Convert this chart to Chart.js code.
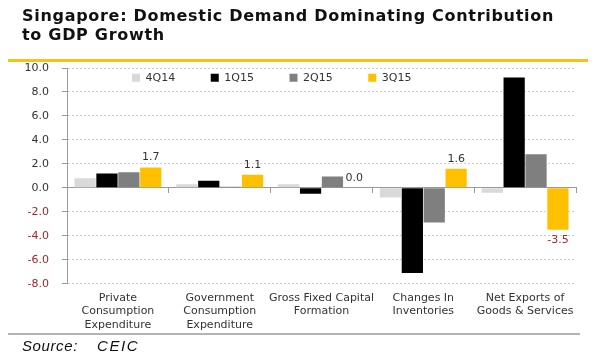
<!DOCTYPE html>
<html>
<head>
<meta charset="utf-8">
<script src="https://cdn.jsdelivr.net/npm/chart.js@4/dist/chart.umd.min.js"></script>
<style>
  html, body { margin: 0; padding: 0; background: #ffffff; }
  #wrap { position: relative; width: 600px; height: 360px; overflow: hidden; background: #fff; }
  #title { position: absolute; left: 22px; top: 6px; font: bold 16px "DejaVu Sans", sans-serif; line-height: 19px; letter-spacing: 0.7px; color: #111; white-space: nowrap; }
  #ruleTop { position: absolute; left: 8px; top: 59px; width: 580px; height: 3px; background: #f0c419; }
  #ruleBottom { position: absolute; left: 8px; top: 333px; width: 572px; height: 2px; background: #b4b4b4; }
  #source { position: absolute; left: 22px; top: 337px; font: italic 15px "Liberation Sans", Arial, sans-serif; line-height: 17px; color: #111; white-space: pre; letter-spacing: 0.6px; }
  #source span { letter-spacing: 1.6px; }
  canvas { position: absolute; left: 0; top: 0; }
</style>
</head>
<body>
<div id="wrap">
  <canvas id="c" width="600" height="360"></canvas>
  <div id="title">Singapore: Domestic Demand Dominating Contribution<br>to GDP Growth</div>
  <div id="ruleTop"></div>
  <div id="ruleBottom"></div>
  <div id="source">Source:    <span>CEIC</span></div>
</div>
<script>
// ---- data ----
const categories = [
  ["Private", "Consumption", "Expenditure"],
  ["Government", "Consumption", "Expenditure"],
  ["Gross Fixed Capital", "Formation"],
  ["Changes In", "Inventories"],
  ["Net Exports of", "Goods & Services"]
];
const seriesNames = ["4Q14", "1Q15", "2Q15", "3Q15"];
const values4Q14 = [0.8, 0.3, 0.3, -0.8, -0.4];
const values1Q15 = [1.2, 0.6, -0.5, -7.1, 9.2];
const values2Q15 = [1.3, 0.08, 0.95, -2.9, 2.8];
const values3Q15 = [1.7, 1.1, 0.0, 1.6, -3.5];
const yMin = -8, yMax = 10, yStep = 2;

// ---- styles ----
const seriesColors = ["#d9d9d9", "#000000", "#7f7f7f", "#ffc000"];
const labelFont = { family: "DejaVu Sans", size: 11 };
const darkText = "#333333";
const negText = "#a8262b";

// legend drawn inside the plot area, in one row, without reserving layout space
const legendPlacer = {
  id: "legendPlacer",
  beforeLayout(chart) {
    const lg = chart.legend;
    if (!lg || lg._patchedFit) return;
    const origFit = lg.fit.bind(lg);
    lg.fit = function () {
      origFit();
      this._realHeight = this.height;
      this.height = 0;
    };
    lg._patchedFit = true;
  },
  afterLayout(chart) {
    const lg = chart.legend;
    if (!lg) return;
    const P = lg.options.labels.padding;
    lg.left = 132 - P;
    lg.right = chart.chartArea.right;
    lg.width = lg.right - lg.left;
    lg.top = 77.7 - 5.5 - P;
    lg.height = lg._realHeight || 0;
    lg.bottom = lg.top + lg.height;
  }
};

const valueLabels = {
  id: "valueLabels",
  afterDatasetsDraw(chart) {
    const ctx = chart.ctx;
    const meta = chart.getDatasetMeta(3);
    ctx.save();
    ctx.font = "11px 'DejaVu Sans'";
    ctx.textAlign = "center";
    ctx.textBaseline = "middle";
    meta.data.forEach((bar, i) => {
      const v = values3Q15[i];
      const neg = v < 0;
      ctx.fillStyle = neg ? negText : darkText;
      ctx.fillText(v.toFixed(1), bar.x, neg ? bar.y + 10 : bar.y - 10);
    });
    ctx.restore();
  }
};

const datasets = [values4Q14, values1Q15, values2Q15, values3Q15].map((vals, i) => ({
  label: seriesNames[i],
  data: vals,
  backgroundColor: seriesColors[i],
  borderWidth: 0,
  barPercentage: 0.97,
  categoryPercentage: 0.86
}));

new Chart(document.getElementById("c"), {
  type: "bar",
  data: { labels: categories, datasets },
  plugins: [legendPlacer, valueLabels],
  options: {
    responsive: false,
    animation: false,
    devicePixelRatio: 1,
    layout: { padding: { top: 68, right: 24, left: 0, bottom: 0 } },
    plugins: {
      title: { display: false },
      tooltip: { enabled: false },
      legend: {
        position: "top",
        align: "start",
        labels: { boxWidth: 8, boxHeight: 8, padding: 35.6, font: labelFont, color: darkText }
      }
    },
    scales: {
      x: {
        position: "bottom",
        grid: { display: false, drawTicks: false, tickLength: 0 },
        border: { display: false },
        ticks: { font: labelFont, color: darkText, padding: 8, maxRotation: 0, autoSkip: false },
        afterFit(s) { s.height = 76.3; }
      },
      x2: {
        type: "category",
        position: { y: 0 },
        offset: true,
        grid: { offset: true, drawOnChartArea: false, drawTicks: true, tickLength: 5, tickColor: "#9a9a9a" },
        border: { color: "#9a9a9a", width: 1 },
        ticks: { display: false }
      },
      y: {
        min: yMin, max: yMax,
        ticks: {
          stepSize: yStep,
          font: labelFont,
          padding: 13,
          color: (c) => (c.tick && c.tick.value < 0 ? negText : darkText),
          callback: (v) => Number(v).toFixed(1)
        },
        grid: {
          color: (c) => (c.tick && c.tick.value === 0 ? "rgba(0,0,0,0)" : "#cfcfcf"),
          tickColor: "#9a9a9a",
          tickLength: 5,
          tickBorderDash: []
        },
        border: { color: "#9a9a9a", width: 1, dash: [2, 2] },
        afterFit(s) { s.width = 67; }
      }
    }
  }
});
</script>
</body>
</html>
